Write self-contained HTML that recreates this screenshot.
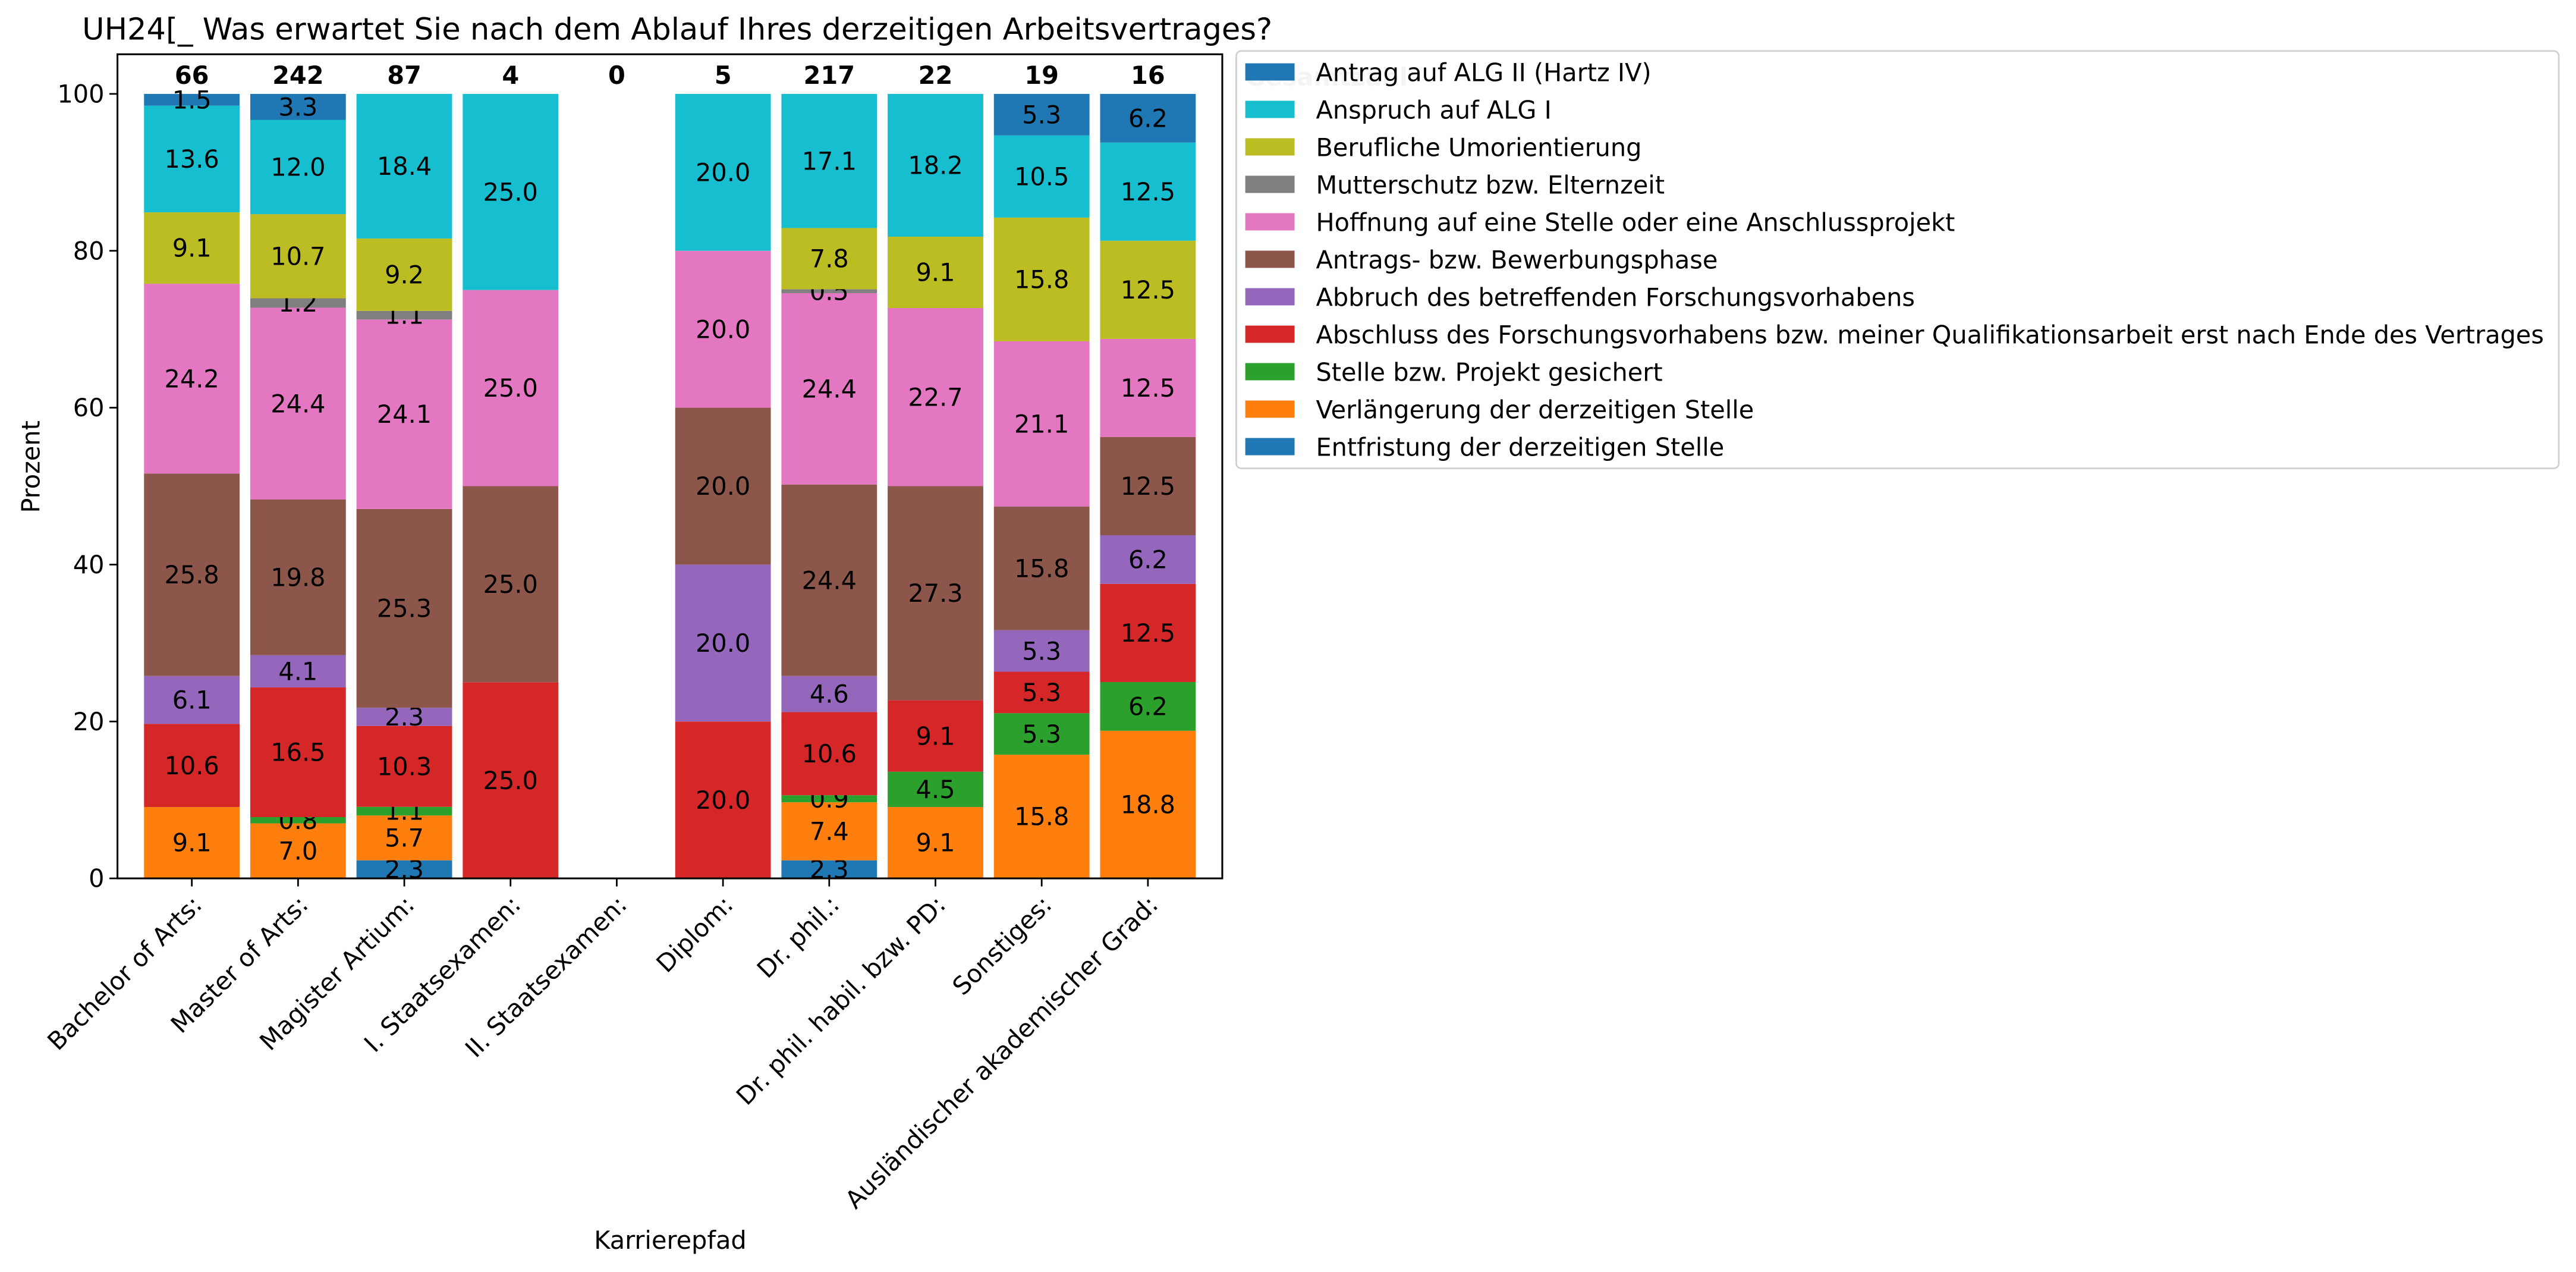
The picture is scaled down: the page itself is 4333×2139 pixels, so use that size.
<!DOCTYPE html>
<html><head><meta charset="utf-8"><style>
html,body{margin:0;padding:0;background:#fff;}
svg{display:block;font-family:"DejaVu Sans","Liberation Sans",sans-serif;}
</style></head><body>
<svg id="chart" width="4333" height="2139" viewBox="0 0 1568 774" xmlns="http://www.w3.org/2000/svg">
<rect x="0" y="0" width="1568" height="774" fill="#fff"/>
<text x="50" y="24" font-size="18.5" fill="#000">UH24[_ Was erwartet Sie nach dem Ablauf Ihres derzeitigen Arbeitsvertrages?</text>
<text transform="translate(24,284) rotate(-90)" text-anchor="middle" font-size="15">Prozent</text>
<text x="408" y="760" text-anchor="middle" font-size="15">Karrierepfad</text>
<g id="bars"></g>
<g id="axes"></g>
<g id="legend"></g>
</svg>
<script>
const categories = ["Bachelor of Arts:","Master of Arts:","Magister Artium:","I. Staatsexamen:","II. Staatsexamen:","Diplom:","Dr. phil.:","Dr. phil. habil. bzw. PD:","Sonstiges:","Ausländischer akademischer Grad:"];
const totals = [66,242,87,4,0,5,217,22,19,16];
const seriesNames = ["Entfristung der derzeitigen Stelle","Verlängerung der derzeitigen Stelle","Stelle bzw. Projekt gesichert","Abschluss des Forschungsvorhabens bzw. meiner Qualifikationsarbeit erst nach Ende des Vertrages","Abbruch des betreffenden Forschungsvorhabens","Antrags- bzw. Bewerbungsphase","Hoffnung auf eine Stelle oder eine Anschlussprojekt","Mutterschutz bzw. Elternzeit","Berufliche Umorientierung","Anspruch auf ALG I","Antrag auf ALG II (Hartz IV)"];
const seriesColors = ["#1f77b4","#ff7f0e","#2ca02c","#d62728","#9467bd","#8c564b","#e377c2","#7f7f7f","#bcbd22","#17becf","#1f77b4"];
const entfristung = [0,0,2.3,0,0,0,2.3,0,0,0];
const verlaengerung = [9.1,7.0,5.7,0,0,0,7.4,9.1,15.8,18.8];
const gesichert = [0,0.8,1.1,0,0,0,0.9,4.5,5.3,6.2];
const abschluss = [10.6,16.5,10.3,25.0,0,20.0,10.6,9.1,5.3,12.5];
const abbruch = [6.1,4.1,2.3,0,0,20.0,4.6,0,5.3,6.2];
const antrags = [25.8,19.8,25.3,25.0,0,20.0,24.4,27.3,15.8,12.5];
const hoffnung = [24.2,24.4,24.1,25.0,0,20.0,24.4,22.7,21.1,12.5];
const mutterschutz = [0,1.2,1.1,0,0,0,0.5,0,0,0];
const umorientierung = [9.1,10.7,9.2,0,0,0,7.8,9.1,15.8,12.5];
const alg1 = [13.6,12.0,18.4,25.0,0,20.0,17.1,18.2,10.5,12.5];
const alg2 = [1.5,3.3,0,0,0,0,0,0,5.3,6.2];
const seriesValues = [entfristung,verlaengerung,gesichert,abschluss,abbruch,antrags,hoffnung,mutterschutz,umorientierung,alg1,alg2];
const yTicks = [0,20,40,60,80,100];

const NS="http://www.w3.org/2000/svg";
const L=71.5,R=744,T=33,B=534.5;
const xmin=-0.7,xmax=9.7,ymin=0,ymax=105.05;
const FS=15;
function xs(v){return L+(v-xmin)/(xmax-xmin)*(R-L);}
function ys(v){return B-(v-ymin)/(ymax-ymin)*(B-T);}
function mk(tag,attrs,parent){const e=document.createElementNS(NS,tag);for(const k in attrs)e.setAttribute(k,attrs[k]);parent.appendChild(e);return e;}
const gb=document.getElementById('bars'),ga=document.getElementById('axes'),gl=document.getElementById('legend');
const bw=0.9;
categories.forEach((c,i)=>{
  let sum=0;
  seriesValues.forEach(arr=>{sum+=arr[i];});
  const k=sum>0?100/sum:1;
  let base=0;
  seriesValues.forEach((arr,s)=>{
    const v=arr[i];
    if(v>0){
      const h=v*k;
      const r=mk('rect',{x:xs(i-bw/2),y:ys(base+h),width:xs(i+bw/2)-xs(i-bw/2),height:ys(base)-ys(base+h),fill:seriesColors[s]},gb);
      
      
      const t=mk('text',{x:xs(i),y:ys(base+h/2)+5.3,'text-anchor':'middle','font-size':FS},gb);
      t.textContent=v.toFixed(1);
      
      
      base+=h;
    }
  });
  const tt=mk('text',{x:xs(i),y:51,'text-anchor':'middle','font-size':FS,'font-weight':'bold'},gb);
  tt.textContent=String(totals[i]);
  
  
  const tk=mk('line',{x1:xs(i),x2:xs(i),y1:B,y2:B+4.9,stroke:'#000','stroke-width':'1'},ga);
  
  
  const lx=xs(i)+7,ly=B+17;
  const tl=mk('text',{x:lx,y:ly,'text-anchor':'end','font-size':FS,transform:`rotate(-45 ${lx} ${ly})`},ga);
  tl.textContent=c;
  
  
});
yTicks.forEach(v=>{
  const tk=mk('line',{x1:L-4.9,x2:L,y1:ys(v),y2:ys(v),stroke:'#000','stroke-width':'1'},ga);
  
  
  const tl=mk('text',{x:L-8,y:ys(v)+5.3,'text-anchor':'end','font-size':FS},ga);
  tl.textContent=String(v);
  
  
});
const frame=mk('rect',{x:L,y:T,width:R-L,height:B-T,fill:'none',stroke:'#000','stroke-width':'1.1'},ga);


const gz=mk('text',{x:758,y:52,'font-size':FS,'font-weight':'bold',fill:'#c8c8c8'},gl);
gz.textContent='Gesamtzahl';


const box=mk('rect',{x:752.5,y:31,width:805,height:254,rx:3,fill:'#fff','fill-opacity':'0.8',stroke:'#d0d0d0','stroke-width':'1'},gl);


for(let k=0;k<seriesNames.length;k++){
  const s=seriesNames.length-1-k;
  const cy=44+k*22.8;
  const p=mk('rect',{x:758,y:cy-5.5,width:30,height:10.5,fill:seriesColors[s]},gl);
  
  
  const t=mk('text',{x:801,y:cy+5.3,'font-size':FS},gl);
  t.textContent=seriesNames[s];
  
  
}
</script>
</body></html>
